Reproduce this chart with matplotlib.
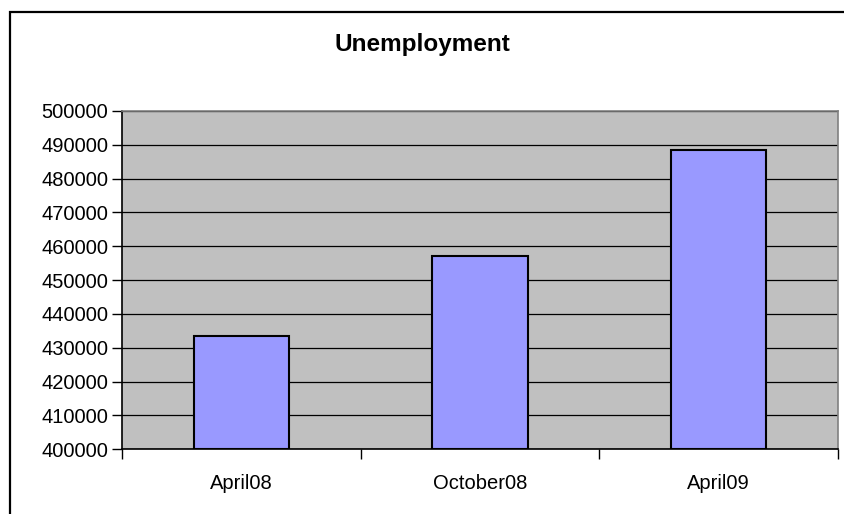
import numpy as np
import matplotlib
matplotlib.use('Agg')
import matplotlib.pyplot as plt
from matplotlib.patches import Rectangle

# data
months = ['April08', 'October08', 'April09']
unemployed = [433600, 457000, 488500]
yticks = [400000, 410000, 420000, 430000, 440000, 450000, 460000, 470000, 480000, 490000, 500000]

plt.rcParams['font.family'] = ['Liberation Sans', 'DejaVu Sans']

fig = plt.figure(figsize=(8.44, 5.14), dpi=100)
ax = fig.add_axes([122/844, 1 - 449.3/514, (838 - 122)/844, (449.3 - 111)/514])

# outer chart frame (right/bottom edges are off the picture)
fig.patches.append(Rectangle((10/844, -0.05), 1.2, 1 - 12/514 + 0.05,
                             transform=fig.transFigure, fill=False,
                             edgecolor='black', linewidth=1.6, zorder=0))

ax.set_facecolor('#C0C0C0')
x = np.arange(len(months))
ax.bar(x, [v - 400000 for v in unemployed], bottom=400000, width=0.4,
       color='#9999FF', edgecolor='black', linewidth=1.5, zorder=3)

ax.set_ylim(400000, 500000)
ax.set_xlim(-0.5, 2.5)
ax.set_yticks(yticks)
ax.set_yticklabels([str(t) for t in yticks], fontsize=14.5)
ax.yaxis.grid(True, color='black', linewidth=0.9, zorder=1)
ax.set_axisbelow(True)

ax.set_xticks([-0.5, 0.5, 1.5, 2.5])
ax.set_xticklabels([])
ax.set_xticks(x, minor=True)
ax.set_xticklabels(months, minor=True, fontsize=14.5)
ax.tick_params(axis='x', which='minor', length=0, pad=18)
ax.tick_params(axis='x', which='major', length=7, width=1, direction='out')
ax.tick_params(axis='y', length=7, width=1, direction='out', pad=3)

for s in ['top', 'right']:
    ax.spines[s].set_color('#808080')
    ax.spines[s].set_linewidth(1.2)
for s in ['left', 'bottom']:
    ax.spines[s].set_color('black')
    ax.spines[s].set_linewidth(1.2)

fig.text(0.5, 1 - 44/514, 'Unemployment', ha='center', va='center',
         fontsize=17.5, fontweight='bold')

fig.savefig('out.png', dpi=100)
